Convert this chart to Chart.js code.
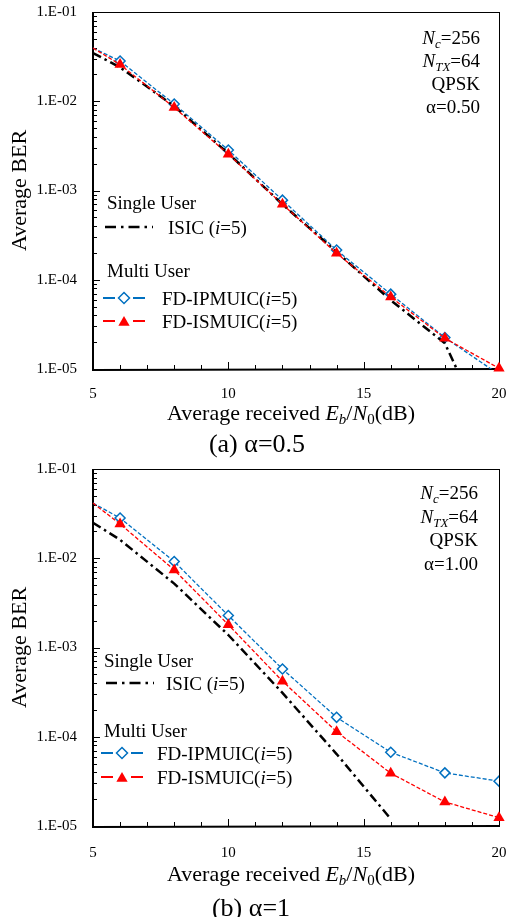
<!DOCTYPE html>
<html>
<head>
<meta charset="utf-8">
<script src="https://cdn.jsdelivr.net/npm/chart.js@4.4.1/dist/chart.umd.min.js"></script>
<style>
  body { margin: 0; background: #fff; }
  #wrap { position: relative; width: 509px; height: 917px; font-family: "Liberation Serif", "Times New Roman", serif; color: #000; }
  canvas { position: absolute; left: 0; }
  .t { position: absolute; white-space: nowrap; line-height: 1; }
  .leg { font-size: 19px; }
  .ann { font-size: 19px; text-align: right; }
  .xt { font-size: 22px; transform: translateX(-50%); }
  .cap { font-size: 26px; transform: translateX(-50%); }
  sub { font-size: 0.68em; line-height: 0; vertical-align: -0.3em; }
</style>
</head>
<body>
<div id="wrap">
  <canvas id="chartA" width="509" height="405" style="top:0;width:509px;height:405px"></canvas>
  <canvas id="chartB" width="509" height="405" style="top:457px;width:509px;height:405px"></canvas>

  <div class="t ann" style="right:29px;top:25.5px;line-height:23.3px">
    <div><i>N</i><sub><i>c</i></sub>=256</div>
    <div><i>N</i><sub><i>TX</i></sub>=64</div>
    <div>QPSK</div>
    <div>α=0.50</div>
  </div>
  <div class="t leg" style="left:107px;top:192.5px">Single User</div>
  <div class="t leg" style="left:168px;top:217.5px">ISIC (<i>i</i>=5)</div>
  <div class="t leg" style="left:107px;top:260.5px">Multi User</div>
  <div class="t leg" style="left:162px;top:288.5px">FD-IPMUIC(<i>i</i>=5)</div>
  <div class="t leg" style="left:162px;top:311.5px">FD-ISMUIC(<i>i</i>=5)</div>
  <div class="t xt" style="left:291px;top:402px">Average received <i>E</i><sub><i>b</i></sub>/<i>N</i><sub>0</sub>(dB)</div>
  <div class="t cap" style="left:257px;top:431px">(a) α=0.5</div>

  <div class="t ann" style="right:31px;top:481px;line-height:23.7px">
    <div><i>N</i><sub><i>c</i></sub>=256</div>
    <div><i>N</i><sub><i>TX</i></sub>=64</div>
    <div>QPSK</div>
    <div>α=1.00</div>
  </div>
  <div class="t leg" style="left:104px;top:650.5px">Single User</div>
  <div class="t leg" style="left:166px;top:673.5px">ISIC (<i>i</i>=5)</div>
  <div class="t leg" style="left:104px;top:720.5px">Multi User</div>
  <div class="t leg" style="left:157px;top:743.5px">FD-IPMUIC(<i>i</i>=5)</div>
  <div class="t leg" style="left:157px;top:767.5px">FD-ISMUIC(<i>i</i>=5)</div>
  <div class="t xt" style="left:291px;top:863px">Average received <i>E</i><sub><i>b</i></sub>/<i>N</i><sub>0</sub>(dB)</div>
  <div class="t cap" style="left:251px;top:895px">(b) α=1</div>
</div>

<script>
// Eb/N0 (dB) where the multi user curves are sampled
const snr = [5, 6, 8, 10, 12, 14, 16, 18, 20];

// (a) alpha = 0.5
const isicSnrA = [5, 6, 8, 10, 12, 14, 16, 18, 19];
const isicA = [0.0347, 0.024, 0.0088, 0.0026, 7.0e-4, 2.05e-4, 5.9e-5, 1.94e-5, 4.3e-6];
const ipmuicA = [0.0395, 0.0282, 0.0093, 0.00284, 7.8e-4, 2.15e-4, 6.9e-5, 2.25e-5, 8.7e-6];
const ismuicA = [0.0395, 0.0258, 0.0085, 0.00255, 7.0e-4, 1.98e-4, 6.4e-5, 2.21e-5, 1.02e-5];

// (b) alpha = 1
const isicSnrB = [5, 6, 8, 10, 12, 14, 16];
const isicB = [0.025, 0.0161, 0.0052, 0.00138, 3.1e-4, 6.4e-5, 1.2e-5];
const ipmuicB = [0.0415, 0.0282, 0.0092, 0.00228, 5.74e-4, 1.65e-4, 6.7e-5, 3.94e-5, 3.18e-5];
const ismuicB = [0.0415, 0.0242, 0.0074, 0.0018, 4.2e-4, 1.14e-4, 3.9e-5, 1.86e-5, 1.24e-5];

const xTickValues = [5, 10, 15, 20];
const xTickLabels = ['5', '10', '15', '20'];
const yTickValues = [1e-5, 1e-4, 1e-3, 1e-2, 1e-1];
const yTickLabels = ['1.E-05', '1.E-04', '1.E-03', '1.E-02', '1.E-01'];

const FONT = '"Liberation Serif", "Times New Roman", serif';
const BLUE = '#0070C0';
const RED = '#FF0000';

function pts(xs, ys) {
  return xs.map((x, i) => ({ x: x, y: ys[i] }));
}

function diamond(ctx, x, y, r) {
  ctx.beginPath();
  ctx.moveTo(x, y - r); ctx.lineTo(x + r, y); ctx.lineTo(x, y + r); ctx.lineTo(x - r, y);
  ctx.closePath();
  ctx.fillStyle = '#fff'; ctx.fill();
  ctx.setLineDash([]); ctx.lineWidth = 1.5; ctx.strokeStyle = BLUE; ctx.stroke();
}

function triangle(ctx, x, y, r) {
  ctx.beginPath();
  ctx.moveTo(x, y - r); ctx.lineTo(x + r * 0.866, y + r / 2); ctx.lineTo(x - r * 0.866, y + r / 2);
  ctx.closePath();
  ctx.fillStyle = RED; ctx.fill();
}

// inward ticks + plot frame
const frame = {
  id: 'frame',
  beforeDatasetsDraw(chart) {
    const { ctx, chartArea: a, scales: { x, y } } = chart;
    ctx.save();
    ctx.strokeStyle = '#000';
    ctx.lineWidth = 1;
    ctx.beginPath();
    for (let v = 6; v < 20; v++) {
      const px = Math.round(x.getPixelForValue(v)) + 0.5;
      ctx.moveTo(px, a.bottom);
      ctx.lineTo(px, a.bottom - (v % 5 === 0 ? 7 : 4));
    }
    for (let e = -5; e <= -2; e++) {
      for (let k = 1; k <= 9; k++) {
        if (e === -5 && k === 1) continue;
        const py = Math.round(y.getPixelForValue(k * Math.pow(10, e))) + 0.5;
        ctx.moveTo(a.left, py);
        ctx.lineTo(a.left + (k === 1 ? 7 : 4), py);
      }
    }
    ctx.stroke();
    ctx.lineWidth = 1;
    ctx.strokeRect(a.left + 0.5, a.top + 0.5, a.right - a.left, a.bottom - a.top);
    ctx.lineWidth = 2;
    ctx.beginPath();
    ctx.moveTo(a.left, a.top); ctx.lineTo(a.left, a.bottom + 1); ctx.lineTo(a.right + 1, a.bottom);
    ctx.stroke();
    ctx.restore();
  }
};

function legendSamples(rows) {
  return {
    id: 'legendSamples',
    afterDraw(chart) {
      const ctx = chart.ctx;
      ctx.save();
      ctx.lineWidth = 2.5;
      ctx.strokeStyle = '#000';
      ctx.setLineDash([11, 5, 2.5, 5]);
      ctx.beginPath(); ctx.moveTo(rows.x0, rows.isic); ctx.lineTo(rows.x0 + 48, rows.isic); ctx.stroke();
      ctx.lineWidth = 2;
      ctx.setLineDash([]);
      [[rows.ip, BLUE], [rows.is, RED]].forEach(([yy, c]) => {
        ctx.strokeStyle = c;
        ctx.beginPath();
        ctx.moveTo(rows.x1, yy); ctx.lineTo(rows.x1 + 12, yy);
        ctx.moveTo(rows.x1 + 30, yy); ctx.lineTo(rows.x1 + 42, yy);
        ctx.stroke();
      });
      diamond(ctx, rows.x1 + 21, rows.ip, 5.5);
      triangle(ctx, rows.x1 + 21, rows.is + 1.5, 6.5);
      ctx.restore();
    }
  };
}

function makeChart(id, isicX, isicY, ipY, isY, rows, xPad) {
  const marks = snr.map((v, i) => (i === 0 ? 0 : 1));
  return new Chart(document.getElementById(id), {
    type: 'line',
    data: {
      datasets: [
        {
          label: 'ISIC (i=5)',
          data: pts(isicX, isicY),
          borderColor: '#000',
          borderWidth: 2.5,
          borderDash: [9, 4, 2.5, 4],
          pointRadius: 0,
          order: 1
        },
        {
          label: 'FD-IPMUIC(i=5)',
          data: pts(snr, ipY),
          borderColor: BLUE,
          borderWidth: 1.3,
          borderDash: [4, 2],
          pointStyle: 'rectRot',
          pointRadius: marks.map(m => m * 5),
          pointBorderWidth: 1.5,
          pointBorderColor: BLUE,
          pointBackgroundColor: '#fff',
          order: 2
        },
        {
          label: 'FD-ISMUIC(i=5)',
          data: pts(snr, isY),
          borderColor: RED,
          borderWidth: 1.3,
          borderDash: [4, 2],
          pointStyle: 'triangle',
          pointRadius: marks.map(m => m * 6.5),
          pointBorderWidth: 0,
          pointBorderColor: RED,
          pointBackgroundColor: RED,
          clip: false,
          order: 0
        }
      ]
    },
    options: {
      responsive: false,
      animation: false,
      layout: { padding: { top: 12, right: 10, left: 0, bottom: 0 } },
      plugins: { legend: { display: false }, tooltip: { enabled: false } },
      scales: {
        x: {
          type: 'linear',
          min: 5,
          max: 20,
          afterBuildTicks: s => { s.ticks = xTickValues.map(v => ({ value: v })); },
          afterFit: s => { s.height = 36; s.paddingLeft = 0; s.paddingRight = 0; },
          ticks: {
            autoSkip: false,
            maxRotation: 0,
            padding: xPad,
            color: '#000',
            font: { family: FONT, size: 15 },
            callback: (v, i) => xTickLabels[i]
          },
          grid: { display: false, drawTicks: false },
          border: { display: false }
        },
        y: {
          type: 'logarithmic',
          min: 1e-5,
          max: 1e-1,
          afterBuildTicks: s => { s.ticks = yTickValues.map(v => ({ value: v })); },
          afterFit: s => { s.width = 93; s.paddingTop = 0; s.paddingBottom = 0; },
          ticks: {
            autoSkip: false,
            padding: 16,
            color: '#000',
            font: { family: FONT, size: 15 },
            callback: (v, i) => yTickLabels[i]
          },
          grid: { display: false, drawTicks: false },
          border: { display: false },
          title: {
            display: true,
            text: 'Average BER',
            color: '#000',
            font: { family: FONT, size: 22 },
            padding: { top: 7, bottom: 0 }
          }
        }
      }
    },
    plugins: [frame, legendSamples(rows)]
  });
}

makeChart('chartA', isicSnrA, isicA, ipmuicA, ismuicA, { x0: 105, isic: 227, x1: 103, ip: 298, is: 321 }, 16);
makeChart('chartB', isicSnrB, isicB, ipmuicB, ismuicB, { x0: 106, isic: 226, x1: 101, ip: 296, is: 320 }, 18);
</script>
</body>
</html>
